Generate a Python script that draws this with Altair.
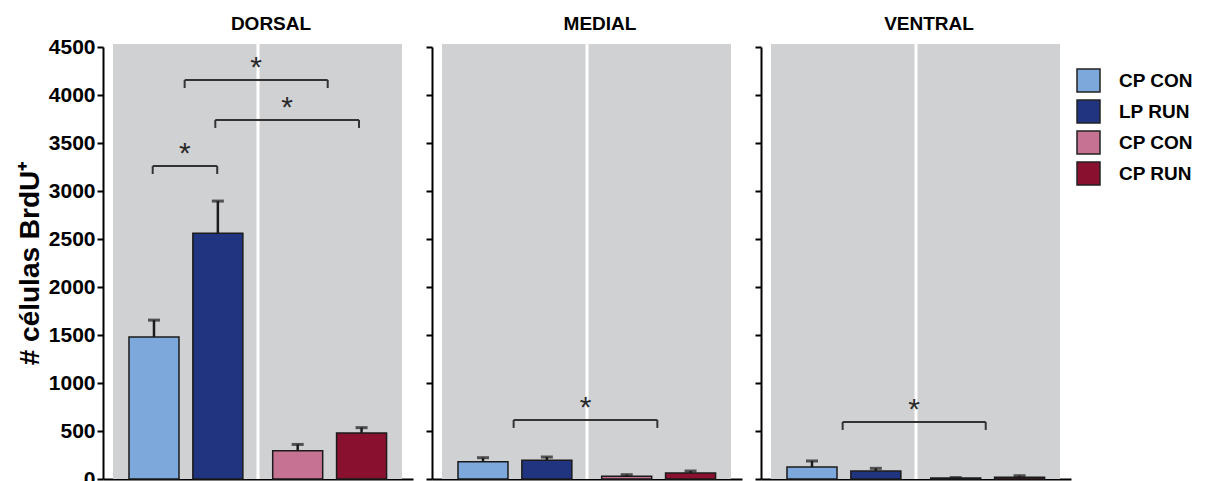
import altair as alt
import pandas as pd

regions = ["DORSAL", "MEDIAL", "VENTRAL"]
group_keys = ["g1", "g2", "g3", "g4"]
group_labels = ["CP CON", "LP RUN", "CP CON", "CP RUN"]
group_colors = ["#7DA8DC", "#213480", "#C67292", "#8A1030"]
bar_slots = [1.0, 2.0, 3.25, 4.25]

dorsal_mean = [1480, 2560, 295, 480]
dorsal_err = [175, 335, 65, 55]
medial_mean = [180, 195, 28, 62]
medial_err = [42, 34, 17, 21]
ventral_mean = [125, 83, 10, 18]
ventral_err = [63, 28, 5, 16]

dorsal_br_from = [1.48, 1.96, 0.98]
dorsal_br_to = [3.72, 4.21, 1.99]
dorsal_br_y = [4156, 3740, 3260]
medial_br_from = [1.48]
medial_br_to = [3.73]
medial_br_y = [615]
ventral_br_from = [1.48]
ventral_br_to = [3.72]
ventral_br_y = [594]
bracket_drop = 83

y_ticks = list(range(0, 4501, 500))

FONT = "Liberation Sans"
W, H = 310, 432
X_DOMAIN = [0.28, 4.977]

label_expr = ""
for k, lab in zip(group_keys, group_labels):
    label_expr += f"datum.value == '{k}' ? '{lab}' : "
label_expr += "datum.value"


def panel(name, means, errs, bfrom, bto, by, first):
    df = pd.DataFrame({
        "slot": bar_slots,
        "group": group_keys,
        "mean": means,
        "top": [m + e for m, e in zip(means, errs)],
    })
    br = pd.DataFrame({
        "x1": bfrom,
        "x2": bto,
        "y": by,
        "yend": [v - bracket_drop for v in by],
        "xm": [(a + b) / 2 for a, b in zip(bfrom, bto)],
        "star": ["*"] * len(by),
    })
    xs = alt.Scale(domain=X_DOMAIN, nice=False, zero=False)
    ys = alt.Scale(domain=[0, 4500], nice=False)
    xaxis = alt.Axis(domain=True, ticks=False, labels=False, title=None, grid=False,
                     domainColor="black", domainWidth=2)
    if first:
        yaxis = alt.Axis(title="# células BrdU⁺", values=y_ticks, grid=False, format="d")
    else:
        yaxis = alt.Axis(title=None, labels=False, values=y_ticks, grid=False)

    one = pd.DataFrame({"region": [name]})
    bg = alt.Chart(one).mark_rect(color="#D0D1D3").encode(
        x=alt.value(10), x2=alt.value(299), y=alt.value(-3), y2=alt.value(H))
    sep = alt.Chart(one).mark_rule(color="white", strokeWidth=3).encode(
        x=alt.value(155), y=alt.value(-3), y2=alt.value(H))
    title = alt.Chart(one).mark_text(fontSize=19, fontWeight="bold", font=FONT, color="black",
                                     baseline="alphabetic", align="center").encode(
        x=alt.value(168), y=alt.value(-17), text="region:N")

    legend = alt.Legend(
        title=None, orient="none", legendX=973, legendY=21,
        symbolType="square", symbolSize=529, symbolStrokeColor="#222",
        symbolStrokeWidth=1.5, symbolOpacity=1,
        labelFontSize=19, labelFontWeight="bold", labelFont=FONT, labelColor="black",
        labelOffset=18, rowPadding=2, labelExpr=label_expr, padding=0)

    bars = alt.Chart(df).mark_bar(size=50, stroke="#1b1b1b", strokeWidth=1.5).encode(
        x=alt.X("slot:Q", scale=xs, axis=xaxis),
        y=alt.Y("mean:Q", scale=ys, axis=yaxis),
        color=alt.Color("group:N", scale=alt.Scale(domain=group_keys, range=group_colors),
                        legend=legend),
    )
    err = alt.Chart(df).mark_rule(color="#1b1b1b", strokeWidth=2.5).encode(
        x="slot:Q", y="mean:Q", y2="top:Q")
    cap = alt.Chart(df).mark_tick(orient="horizontal", size=12, thickness=3, color="#1b1b1b").encode(
        x="slot:Q", y="top:Q")

    br_h = alt.Chart(br).mark_rule(color="#333333", strokeWidth=2).encode(
        x="x1:Q", x2="x2:Q", y="y:Q")
    br_l = alt.Chart(br).mark_rule(color="#333333", strokeWidth=2).encode(
        x="x1:Q", y="y:Q", y2="yend:Q")
    br_r = alt.Chart(br).mark_rule(color="#333333", strokeWidth=2).encode(
        x="x2:Q", y="y:Q", y2="yend:Q")
    stars = alt.Chart(br).mark_text(fontSize=30, font=FONT, baseline="alphabetic", dy=-3,
                                    color="#2a2a2a").encode(
        x="xm:Q", y="y:Q", text="star:N")

    return alt.layer(bg, sep, bars, err, cap, br_h, br_l, br_r, stars, title).properties(
        width=W, height=H)


p1 = panel(regions[0], dorsal_mean, dorsal_err, dorsal_br_from, dorsal_br_to, dorsal_br_y, True)
p2 = panel(regions[1], medial_mean, medial_err, medial_br_from, medial_br_to, medial_br_y, False)
p3 = panel(regions[2], ventral_mean, ventral_err, ventral_br_from, ventral_br_to, ventral_br_y, False)

chart = alt.hconcat(p1, p2, p3, spacing=12).properties(
    padding={"left": 8, "top": 7, "right": 0, "bottom": 0}
).configure_view(stroke=None).configure_axisY(
    domainColor="black", domainWidth=2, tickColor="black", tickWidth=2, tickSize=6,
    labelFont=FONT, labelFontSize=21, labelFontWeight="bold", labelColor="black",
    labelPadding=2, titleFont=FONT, titleFontSize=28, titleFontWeight="bold",
    titleColor="black", titlePadding=4,
)

chart.save("out.html", embed_options={"renderer": "svg", "actions": False})
